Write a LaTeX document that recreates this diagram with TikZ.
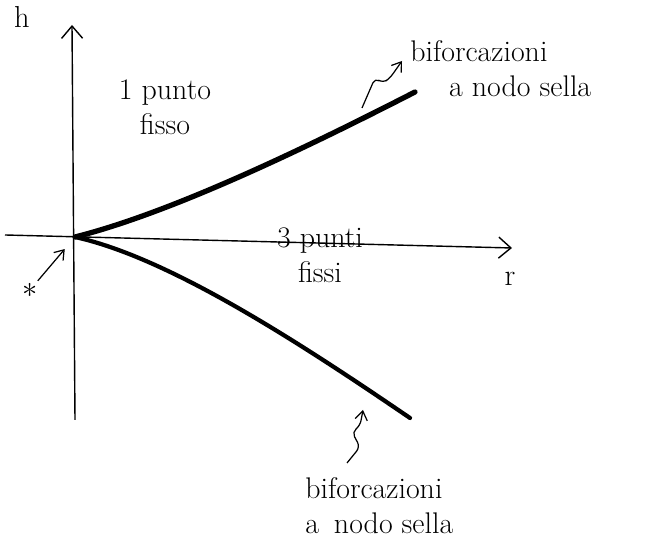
\documentclass[tikz,border=0pt]{standalone}
\usepackage{amsmath}
\usetikzlibrary{arrows.meta}
\tikzset{
  asse/.style={line width=0.8pt, -{Straight Barb[length=7pt,width=12pt]}},
  ramo/.style={line width=3pt, line cap=round},
  freccia/.style={line width=0.7pt, -{Straight Barb[length=5pt,width=7pt]}},
  scritta/.style={font=\fontsize{17}{20}\selectfont, inner sep=0pt},
}

\begin{document}
\begin{tikzpicture}[x=0.02cm,y=0.02cm]
  \useasboundingbox (0,0) rectangle (667,543);
  % Axes
  \coordinate (O) at (75,306);
  \coordinate (hbot) at (75,123);
  \coordinate (htop) at (72,518);
  \coordinate (rleft) at (5,308);
  \coordinate (rright) at (512,295);
  \draw[asse] (hbot) -- (htop);
  \draw[asse] (rleft) -- (rright);
  \node[font=\LARGE] (hlab) at (22,526) {h};
  \node[font=\LARGE] (rlab) at (510,264) {r};
  % The two branches
  \coordinate (sup) at (415,451);
  \coordinate (inf) at (410,125);
  \draw[ramo] (O) .. controls (170,330) and (300,392) .. (sup);
  \draw[ramo, line width=2.4pt] (O) .. controls (170,285) and (300,200) .. (inf);
  % Regions
  \node[scritta, align=center] (uno) at (165,436) {1 punto\\fisso};
  \node[scritta, align=center] (tre) at (320,288) {3 punti\\fissi};
  % Saddle-node labels
  \node[scritta, align=left, anchor=west] (snsup) at (410,474) {biforcazioni\\\quad\ a nodo sella};
  \node[scritta, align=left, anchor=north west] (sninf) at (305,66) {biforcazioni\\a\enspace nodo sella};
  \coordinate (codasup) at (362,435);
  \coordinate (puntainf) at (363,133);
  \draw[freccia, rounded corners=3pt] (codasup) -- ++(13,30) -- ++(8,-5) -- ++(7,5) -- ([shift={(-8,8)}]snsup.west);
  \draw[freccia, rounded corners=3pt] ([shift={(42,14)}]sninf.north west) -- ++(13,16) -- ++(-8,15) -- ++(8,6) -- (puntainf);
  % Origin marker
  \node[font=\LARGE, inner sep=1pt] (stella) at (30,253) {$\ast$};
  \draw[freccia, shorten >=9pt] (stella) -- (O);
\end{tikzpicture}
\end{document}
